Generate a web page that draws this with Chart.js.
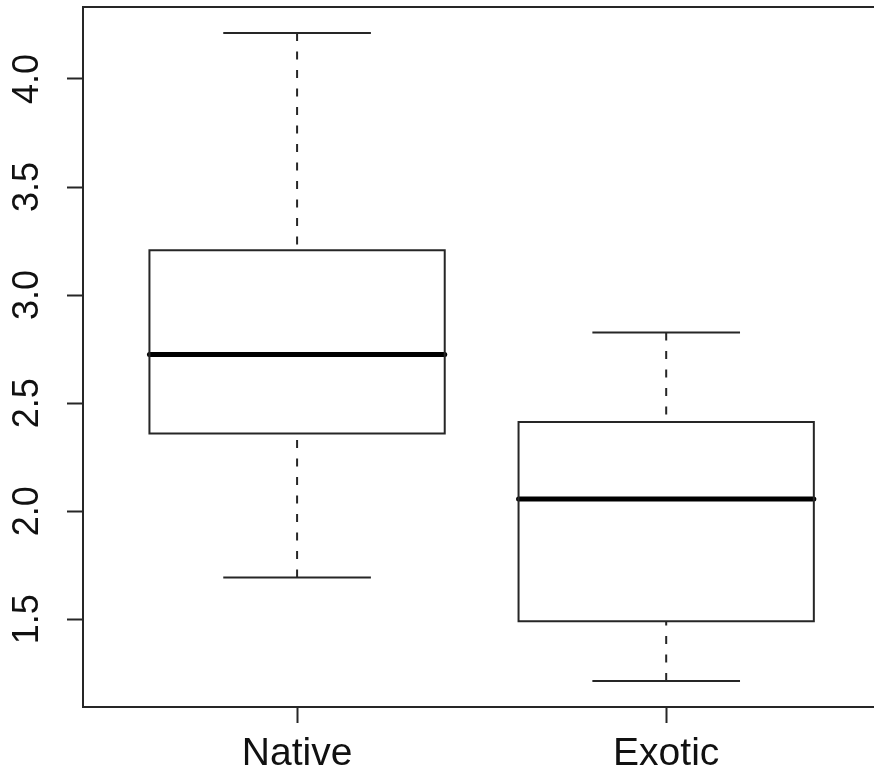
<!DOCTYPE html>
<html>
<head>
<meta charset="utf-8">
<script src="https://cdn.jsdelivr.net/npm/chart.js@4/dist/chart.umd.min.js"></script>
<style>
  html, body { margin: 0; padding: 0; background: #ffffff; }
  #wrap { width: 874px; height: 774px; }
</style>
</head>
<body>
<div id="wrap"><canvas id="plot" width="874" height="774"></canvas></div>
<script>
// Five-number summaries for each group
const categories   = ['Native', 'Exotic'];
const whiskerLow   = [1.693, 1.214];
const quartile1    = [2.360, 1.491];
const medians      = [2.725, 2.056];
const quartile3    = [3.208, 2.413];
const whiskerHigh  = [4.213, 2.827];
const yTickValues  = [1.5, 2.0, 2.5, 3.0, 3.5, 4.0];
const yTickLabels  = ['1.5', '2.0', '2.5', '3.0', '3.5', '4.0'];

const BOX_HALF = 0.4;   // half box width, in category units
const CAP_HALF = 0.2;   // half whisker-cap width
const INK = '#262626';

const seg = (points, extra) => Object.assign({
  data: points,
  showLine: true,
  pointRadius: 0,
  pointHoverRadius: 0,
  borderColor: INK,
  borderWidth: 2,
  tension: 0,
  fill: false
}, extra || {});

const datasets = [];
categories.forEach((name, i) => {
  const c = i + 1;
  // dashed whiskers, drawn from the extreme toward the box
  datasets.push(seg([{x: c, y: whiskerHigh[i]}, {x: c, y: quartile3[i]}], {borderDash: [8, 10.5]}));
  datasets.push(seg([{x: c, y: whiskerLow[i]}, {x: c, y: quartile1[i]}], {borderDash: [8, 10.5]}));
  // whisker caps
  datasets.push(seg([{x: c - CAP_HALF, y: whiskerHigh[i]}, {x: c + CAP_HALF, y: whiskerHigh[i]}]));
  datasets.push(seg([{x: c - CAP_HALF, y: whiskerLow[i]}, {x: c + CAP_HALF, y: whiskerLow[i]}]));
  // box between the hinges
  datasets.push(seg([
    {x: c - BOX_HALF, y: quartile1[i]},
    {x: c + BOX_HALF, y: quartile1[i]},
    {x: c + BOX_HALF, y: quartile3[i]},
    {x: c - BOX_HALF, y: quartile3[i]},
    {x: c - BOX_HALF, y: quartile1[i]}
  ], {borderJoinStyle: 'miter', borderCapStyle: 'square'}));
  // median bar
  datasets.push(seg([{x: c - BOX_HALF, y: medians[i]}, {x: c + BOX_HALF, y: medians[i]}],
    {borderColor: '#000000', borderWidth: 5, borderCapStyle: 'round'}));
});

// top edge of the plot frame
const frameTop = {
  id: 'frameTop',
  afterDraw(chart) {
    const {ctx, chartArea} = chart;
    ctx.save();
    ctx.strokeStyle = INK;
    ctx.lineWidth = 2;
    ctx.beginPath();
    ctx.moveTo(chartArea.left, chartArea.top);
    ctx.lineTo(chartArea.right, chartArea.top);
    ctx.stroke();
    ctx.restore();
  }
};

new Chart(document.getElementById('plot'), {
  type: 'scatter',
  data: { datasets },
  plugins: [frameTop],
  options: {
    responsive: false,
    animation: false,
    devicePixelRatio: 1,
    layout: { padding: { top: 7, right: 0, left: 0, bottom: 0 } },
    plugins: { legend: { display: false }, tooltip: { enabled: false } },
    scales: {
      x: {
        type: 'linear',
        min: 0.42,
        max: 2.563,
        afterBuildTicks(scale) { scale.ticks = categories.map((_, i) => ({ value: i + 1 })); },
        afterFit(scale) {
          scale.height = 67;
          scale.paddingLeft = 0;
          scale.paddingRight = 0;
        },
        ticks: {
          callback: (v) => categories[Math.round(v) - 1] || '',
          font: { family: '"Liberation Sans", Arial, sans-serif', size: 39 },
          color: '#111111',
          padding: 8,
          maxRotation: 0,
          minRotation: 0,
          autoSkip: false
        },
        grid: { drawOnChartArea: false, drawTicks: true, tickLength: 16, tickWidth: 2, tickColor: INK },
        border: { display: true, color: INK, width: 2 }
      },
      y: {
        type: 'linear',
        min: 1.094,
        max: 4.333,
        afterBuildTicks(scale) { scale.ticks = yTickValues.map(v => ({ value: v })); },
        afterFit(scale) {
          scale.width = 83;
          scale.paddingTop = 0;
          scale.paddingBottom = 0;
        },
        ticks: {
          callback: (v) => yTickLabels[yTickValues.indexOf(v)] ?? '',
          font: { family: '"Liberation Sans", Arial, sans-serif', size: 36 },
          color: '#111111',
          minRotation: 90,
          maxRotation: 90,
          crossAlign: 'center',
          padding: 14,
          autoSkip: false
        },
        grid: { drawOnChartArea: false, drawTicks: true, tickLength: 16, tickWidth: 2, tickColor: INK },
        border: { display: true, color: INK, width: 2 }
      }
    }
  }
});
</script>
</body>
</html>
